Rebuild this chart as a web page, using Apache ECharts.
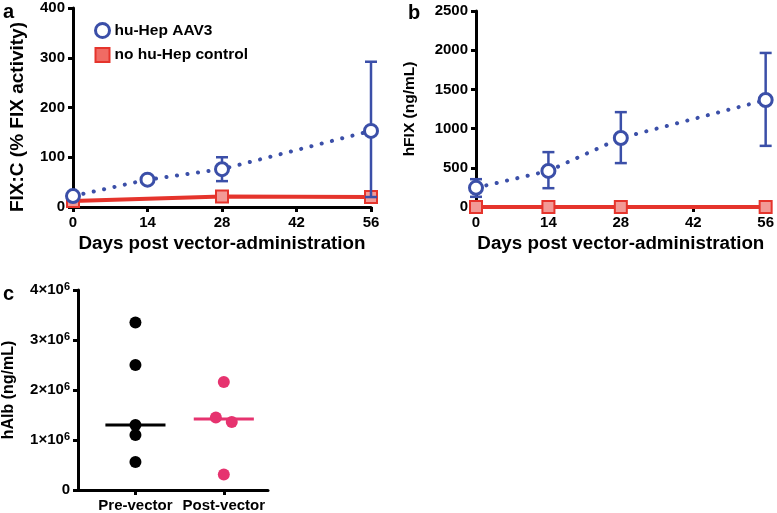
<!DOCTYPE html>
<html><head><meta charset="utf-8">
<script src="https://cdn.jsdelivr.net/npm/echarts@6/dist/echarts.min.js"></script>
<style>html,body{margin:0;padding:0;background:#fff}#c{width:777px;height:513px}</style>
</head><body><div id="c"></div>
<script>
// ---- data ----
const days = [0, 14, 28, 56];
const aBlue = [22, 55, 76, 153];
const aBlueLo = [16, 55, 52, 20];
const aBlueHi = [28, 55, 100, 292];
const aRedDays = [0, 28, 56];
const aRed = [12, 21, 20];
const bBlue = [245, 460, 880, 1365];
const bBlueLo = [130, 240, 560, 780];
const bBlueHi = [355, 700, 1210, 1965];
const bRed = [0, 0, 0, 0];
const groups = ['Pre-vector', 'Post-vector'];
const preVals = [3.35e6, 2.5e6, 1.3e6, 1.1e6, 0.56e6];
const preJitter = [0, 0, 0, 0, 0];
const postVals = [2.16e6, 1.45e6, 1.36e6, 0.31e6];
const postJitter = [0, -0.09, 0.09, 0];
const medians = [1.3e6, 1.42e6];

const BLUE = '#3b4fa8', RED = '#e5342c', PINK = '#e6336f', BLACK = '#000';
const FONT = 'Liberation Sans';
const chart = echarts.init(document.getElementById('c'));

const axisCommon = {
  axisLine: { show: true, lineStyle: { color: BLACK, width: 3 } },
  axisTick: { show: true, length: 5, lineStyle: { color: BLACK, width: 3 } },
  axisLabel: { color: BLACK, fontFamily: FONT, fontWeight: 'bold', fontSize: 15, formatter: v => String(v) },
  splitLine: { show: false },
  nameTextStyle: { color: BLACK, fontFamily: FONT, fontWeight: 'bold', fontSize: 15 }
};
function nameStyle(size) {
  return { color: BLACK, fontFamily: FONT, fontWeight: 'bold', fontSize: size };
}
function xDays(gi) {
  return Object.assign({}, axisCommon, {
    type: 'value', gridIndex: gi, min: 0, max: 56, interval: 14,
    name: 'Days post vector-administration', nameLocation: 'middle', nameGap: 27,
    nameTextStyle: nameStyle(18.8),
    axisLabel: Object.assign({}, axisCommon.axisLabel, { margin: 8 })
  });
}
function errSeries(gi, xs, lo, hi) {
  return {
    type: 'custom', xAxisIndex: gi, yAxisIndex: gi, silent: true, clip: false, z: 3,
    data: xs.map((x, i) => [x, lo[i], hi[i]]),
    renderItem: function (params, api) {
      const p1 = api.coord([api.value(0), api.value(1)]);
      const p2 = api.coord([api.value(0), api.value(2)]);
      const w = 6;
      const st = { stroke: BLUE, lineWidth: 2.5 };
      return { type: 'group', children: [
        { type: 'line', shape: { x1: p1[0], y1: p1[1], x2: p2[0], y2: p2[1] }, style: st },
        { type: 'line', shape: { x1: p1[0] - w, y1: p1[1], x2: p1[0] + w, y2: p1[1] }, style: st },
        { type: 'line', shape: { x1: p2[0] - w, y1: p2[1], x2: p2[0] + w, y2: p2[1] }, style: st }
      ] };
    }
  };
}
function blueSeries(gi, vals) {
  return {
    name: 'hu-Hep AAV3', type: 'line', xAxisIndex: gi, yAxisIndex: gi, clip: false, z: 4,
    data: days.map((d, i) => [d, vals[i]]),
    symbol: 'circle', symbolSize: 13,
    itemStyle: { color: '#fff', borderColor: BLUE, borderWidth: 3 },
    lineStyle: { color: BLUE, width: 4, type: [0.1, 10.5], cap: 'round' }
  };
}
function redSeries(gi, xs, vals) {
  return {
    name: 'no hu-Hep control', type: 'line', xAxisIndex: gi, yAxisIndex: gi, clip: false, z: 2,
    data: xs.map((d, i) => [d, vals[i]]),
    symbol: 'rect', symbolSize: 12,
    itemStyle: { color: '#f29a96', borderColor: RED, borderWidth: 2 },
    lineStyle: { color: RED, width: 4 }
  };
}
function supFmt(v) {
  if (v === 0) return '{b|0}';
  return '{b|' + Math.round(v / 1e6) + '×10}{s|6}';
}

const option = {
  animation: false,
  textStyle: { fontFamily: FONT },
  grid: [
    { left: 73, right: 406, top: 8, bottom: 306 },
    { left: 476, right: 9, top: 11, bottom: 306 },
    { left: 78, right: 509, top: 290, bottom: 23 }
  ],
  legend: {
    left: 89, top: 17, orient: 'vertical', itemGap: 8, itemWidth: 14, itemHeight: 14,
    textStyle: { color: BLACK, fontFamily: FONT, fontWeight: 'bold', fontSize: 15.5 },
    data: [
      { name: 'hu-Hep AAV3', icon: 'circle', itemStyle: { color: '#fff', borderColor: BLUE, borderWidth: 3 } },
      { name: 'no hu-Hep control', icon: 'rect', itemStyle: { color: '#f06b64', borderColor: RED, borderWidth: 2 } }
    ]
  },
  xAxis: [
    xDays(0), xDays(1),
    Object.assign({}, axisCommon, {
      type: 'value', gridIndex: 2, min: 0.35, max: 2.5,
      axisTick: Object.assign({}, axisCommon.axisTick, { customValues: [1, 2] }),
      axisLabel: Object.assign({}, axisCommon.axisLabel, { customValues: [1, 2], margin: 8,
        formatter: v => groups[Math.round(v) - 1] || '' })
    })
  ],
  yAxis: [
    Object.assign({}, axisCommon, { type: 'value', gridIndex: 0, min: 0, max: 400, interval: 100 }),
    Object.assign({}, axisCommon, { type: 'value', gridIndex: 1, min: 0, max: 2500, interval: 500,
      name: 'hFIX (ng/mL)', nameLocation: 'middle', nameGap: 58, nameTextStyle: nameStyle(15.5) }),
    Object.assign({}, axisCommon, { type: 'value', gridIndex: 2, min: 0, max: 4e6, interval: 1e6,
      name: 'hAlb (ng/mL)', nameLocation: 'middle', nameGap: 61, nameTextStyle: nameStyle(16),
      axisLabel: Object.assign({}, axisCommon.axisLabel, { formatter: supFmt,
        rich: { b: { fontFamily: FONT, fontWeight: 'bold', fontSize: 15, color: BLACK, lineHeight: 18 },
                s: { fontFamily: FONT, fontWeight: 'bold', fontSize: 11, color: BLACK, lineHeight: 18, verticalAlign: 'top', padding: [0, 0, 10, 0] } } }) })
  ],
  graphic: [
    { type: 'text', x: 18, y: 117, rotation: Math.PI / 2,
      style: { text: 'FIX:C (% FIX activity)', fontFamily: FONT, fontWeight: 'bold', fontSize: 19, fill: BLACK, align: 'center', verticalAlign: 'middle' } },
    { type: 'text', left: 3, top: 2, style: { text: 'a', fontFamily: FONT, fontWeight: 'bold', fontSize: 20, fill: BLACK } },
    { type: 'text', left: 408, top: 3, style: { text: 'b', fontFamily: FONT, fontWeight: 'bold', fontSize: 20, fill: BLACK } },
    { type: 'text', left: 3, top: 284, style: { text: 'c', fontFamily: FONT, fontWeight: 'bold', fontSize: 20, fill: BLACK } }
  ],
  series: [
    redSeries(0, aRedDays, aRed),
    errSeries(0, days, aBlueLo, aBlueHi),
    blueSeries(0, aBlue),
    redSeries(1, days, bRed),
    errSeries(1, days, bBlueLo, bBlueHi),
    blueSeries(1, bBlue),
    { type: 'scatter', xAxisIndex: 2, yAxisIndex: 2, symbolSize: 12, itemStyle: { color: BLACK, opacity: 1 }, z: 3,
      data: preVals.map((v, i) => [1 + preJitter[i], v]) },
    { type: 'scatter', xAxisIndex: 2, yAxisIndex: 2, symbolSize: 12, itemStyle: { color: PINK, opacity: 1 }, z: 3,
      data: postVals.map((v, i) => [2 + postJitter[i], v]) },
    { type: 'line', xAxisIndex: 2, yAxisIndex: 2, symbol: 'none', lineStyle: { color: BLACK, width: 3 }, z: 2,
      data: [[1 - 0.34, medians[0]], [1 + 0.34, medians[0]]] },
    { type: 'line', xAxisIndex: 2, yAxisIndex: 2, symbol: 'none', lineStyle: { color: PINK, width: 3 }, z: 2,
      data: [[2 - 0.34, medians[1]], [2 + 0.34, medians[1]]] }
  ]
};
chart.setOption(option);
</script></body></html>
